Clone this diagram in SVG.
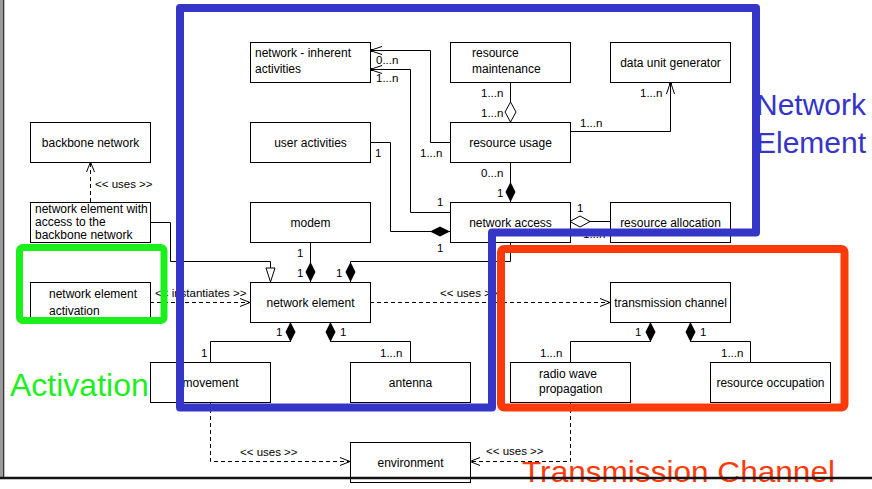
<svg xmlns="http://www.w3.org/2000/svg" width="872" height="489" viewBox="0 0 872 489">
<style>
.box{fill:#fff;stroke:#000;stroke-width:1}
.t{font-family:"Liberation Sans",Arial,sans-serif;font-size:12px;fill:#000}
.c{text-anchor:middle}
.s{font-family:"Liberation Sans",Arial,sans-serif;font-size:11.5px;fill:#000}
.ln{fill:none;stroke:#000;stroke-width:1}
.dash{stroke-dasharray:4 3}
.fd{marker-end:url(#fdia)}
.hd{marker-end:url(#hdia)}
.ar{marker-end:url(#open)}
.ad{marker-end:url(#opendot)}
.tri{marker-end:url(#tri)}
.hl{fill:none;stroke-linejoin:round}
</style>
<defs>
<marker id="fdia" markerUnits="userSpaceOnUse" viewBox="0 -6 20 12" markerWidth="20" markerHeight="12" refX="20" refY="0" orient="auto"><path d="M0,0 L10,-5 L20,0 L10,5 Z" fill="#000"/></marker>
<marker id="hdia" markerUnits="userSpaceOnUse" viewBox="0 -7 21 14" markerWidth="21" markerHeight="14" refX="20" refY="0" orient="auto"><path d="M0,0 L10,-5.5 L20,0 L10,5.5 Z" fill="#fff" stroke="#000" stroke-width="1"/></marker>
<marker id="tri" markerUnits="userSpaceOnUse" viewBox="-1 -6 16 12" markerWidth="16" markerHeight="12" refX="14" refY="0" orient="auto"><path d="M0,-4.5 L14,0 L0,4.5 Z" fill="#fff" stroke="#000" stroke-width="1"/></marker>
<marker id="open" markerUnits="userSpaceOnUse" viewBox="-1 -6 12 12" markerWidth="12" markerHeight="12" refX="10" refY="0" orient="auto"><path d="M0,-4 L10,0 L0,4" fill="none" stroke="#000" stroke-width="1"/></marker>
<marker id="opendot" markerUnits="userSpaceOnUse" viewBox="-1 -6 14 12" markerWidth="14" markerHeight="12" refX="12" refY="0" orient="auto"><path d="M0,-4 L12,0 L0,4" fill="none" stroke="#000" stroke-width="1"/><rect x="9.5" y="-1.5" width="3" height="3" fill="#000"/></marker>
</defs>
<rect x="0" y="0" width="872" height="489" fill="#fff"/>
<rect x="0" y="0" width="3" height="478" fill="#9a9a9a"/>
<line x1="3.7" y1="0" x2="3.7" y2="478" stroke="#222" stroke-width="1.2"/>

<g id="connectors">
<path class="ln dash ar" d="M90.5,202 V162"/>
<text class="s" x="95" y="188">&lt;&lt; uses &gt;&gt;</text>
<path class="ln tri" d="M150,222.5 H170.5 V261.5 H270.5 V282"/>
<path class="ln dash ar" d="M150,302.5 H250"/>
<text class="s" x="155" y="297">&lt;&lt; instantiates &gt;&gt;</text>
<path class="ln fd" d="M310.5,242 V282"/>
<text class="s" x="297" y="257">1</text>
<text class="s" x="297" y="277">1</text>
<path class="ln fd" d="M510.5,242 V261.5 H350.5 V282"/>
<text class="s" x="336" y="277">1</text>
<path class="ln fd" d="M370,142.5 H390.5 V231.5 H450"/>
<text class="s" x="375" y="157">1</text>
<text class="s" x="437" y="252">1</text>
<path class="ln ad" d="M450,212.5 H410.5 V69.5 H370"/>
<text class="s" x="437" y="206">1</text>
<text class="s" x="376" y="82">1...n</text>
<path class="ln ad" d="M450,142.5 H430.5 V50.5 H370"/>
<text class="s" x="376" y="64">0...n</text>
<text class="s" x="420" y="157">1...n</text>
<path class="ln hd" d="M510.5,82 V122"/>
<text class="s" x="481" y="97">1...n</text>
<text class="s" x="481" y="117">1...n</text>
<path class="ln ad" d="M570,131.5 H670.5 V82"/>
<text class="s" x="580" y="127">1...n</text>
<text class="s" x="640" y="97">1...n</text>
<path class="ln fd" d="M510.5,162 V202"/>
<text class="s" x="481" y="177">0...n</text>
<text class="s" x="497" y="197">1</text>
<path class="ln hd" d="M610,221.5 H570"/>
<text class="s" x="577" y="212">1</text>
<text class="s" x="583" y="238">1...n</text>
<path class="ln dash ar" d="M370,302.5 H610"/>
<text class="s" x="440" y="297">&lt;&lt; uses &gt;&gt;</text>
<path class="ln fd" d="M210.5,362 V341.5 H290.5 V322"/>
<text class="s" x="276" y="336">1</text>
<text class="s" x="201" y="357">1</text>
<path class="ln fd" d="M410.5,362 V341.5 H330.5 V322"/>
<text class="s" x="340" y="336">1</text>
<text class="s" x="380" y="357">1...n</text>
<path class="ln fd" d="M570.5,362 V341.5 H650.5 V322"/>
<text class="s" x="635" y="336">1</text>
<text class="s" x="540" y="357">1...n</text>
<path class="ln fd" d="M750.5,362 V341.5 H690.5 V322"/>
<text class="s" x="700" y="336">1</text>
<text class="s" x="721" y="357">1...n</text>
<path class="ln dash ar" d="M210.5,402 V461.5 H350"/>
<text class="s" x="240" y="456">&lt;&lt; uses &gt;&gt;</text>
<path class="ln dash ar" d="M570.5,402 V461.5 H470"/>
<text class="s" x="486" y="455">&lt;&lt; uses &gt;&gt;</text>
</g>

<g id="network-inherent-activities"><rect class="box" x="250.5" y="42.5" width="120" height="40"/><text class="t" x="255" y="57">network - inherent</text><text class="t" x="255" y="73">activities</text></g>
<g id="resource-maintenance"><rect class="box" x="450.5" y="42.5" width="120" height="40"/><text class="t" x="472" y="57">resource</text><text class="t" x="472" y="73">maintenance</text></g>
<g id="data-unit-generator"><rect class="box" x="610.5" y="42.5" width="120" height="40"/><text class="t c" x="670.5" y="66.5">data unit generator</text></g>
<g id="backbone-network"><rect class="box" x="30.5" y="122.5" width="120" height="40"/><text class="t c" x="90.5" y="146.5">backbone network</text></g>
<g id="user-activities"><rect class="box" x="250.5" y="122.5" width="120" height="40"/><text class="t c" x="310.5" y="146.5">user activities</text></g>
<g id="resource-usage"><rect class="box" x="450.5" y="122.5" width="120" height="40"/><text class="t c" x="510.5" y="146.5">resource usage</text></g>
<g id="network-element-with-access"><rect class="box" x="30.5" y="202.5" width="120" height="40"/><text class="t" x="35" y="213" font-size="11.3">network element with</text><text class="t" x="35" y="226" font-size="11.3">access to the</text><text class="t" x="35" y="239" font-size="11.3">backbone network</text></g>
<g id="modem"><rect class="box" x="250.5" y="202.5" width="120" height="40"/><text class="t c" x="310.5" y="226.5">modem</text></g>
<g id="network-access"><rect class="box" x="450.5" y="202.5" width="120" height="40"/><text class="t c" x="510.5" y="226.5">network access</text></g>
<g id="resource-allocation"><rect class="box" x="610.5" y="202.5" width="120" height="40"/><text class="t c" x="670.5" y="226.5">resource allocation</text></g>
<g id="network-element-activation"><rect class="box" x="30.5" y="282.5" width="120" height="40"/><text class="t" x="49" y="298">network element</text><text class="t" x="49" y="315">activation</text></g>
<g id="network-element"><rect class="box" x="250.5" y="282.5" width="120" height="40"/><text class="t c" x="310.5" y="306.5">network element</text></g>
<g id="transmission-channel"><rect class="box" x="610.5" y="282.5" width="120" height="40"/><text class="t c" x="670.5" y="306.5">transmission channel</text></g>
<g id="movement"><rect class="box" x="150.5" y="362.5" width="120" height="40"/><text class="t c" x="210.5" y="386.5">movement</text></g>
<g id="antenna"><rect class="box" x="350.5" y="362.5" width="120" height="40"/><text class="t c" x="410.5" y="386.5">antenna</text></g>
<g id="radio-wave-propagation"><rect class="box" x="510.5" y="362.5" width="120" height="40"/><text class="t" x="539" y="378">radio wave</text><text class="t" x="539" y="393">propagation</text></g>
<g id="resource-occupation"><rect class="box" x="710.5" y="362.5" width="120" height="40"/><text class="t c" x="770.5" y="386.5">resource occupation</text></g>
<g id="environment"><rect class="box" x="350.5" y="442.5" width="120" height="40"/><text class="t c" x="410.5" y="466.5">environment</text></g>

<g id="highlights">
<polygon class="hl" points="180,8 756,8 756,232.5 492,232.5 492,407.5 180,407.5" stroke="#3535c8" stroke-width="8"/>
<rect class="hl" x="501" y="249" width="343.5" height="158.5" rx="3" stroke="#ff3a0a" stroke-width="8"/>
<rect class="hl" x="19.5" y="247.5" width="144.5" height="73" rx="3" stroke="#1cf01c" stroke-width="7"/>
<text x="756" y="115" font-family="Liberation Sans, Arial, sans-serif" font-size="30" fill="#3535c8">Network</text>
<text x="756" y="153" font-family="Liberation Sans, Arial, sans-serif" font-size="30" fill="#3535c8">Element</text>
<text x="10" y="396" font-family="Liberation Sans, Arial, sans-serif" font-size="32" fill="#1cf01c">Activation</text>
<text x="522" y="482" font-family="Liberation Sans, Arial, sans-serif" font-size="29.5" textLength="313" lengthAdjust="spacingAndGlyphs" fill="#ff3a0a">Transmission Channel</text>
</g>
<line x1="0" y1="478" x2="872" y2="478" stroke="#111" stroke-width="2.5"/>
</svg>
